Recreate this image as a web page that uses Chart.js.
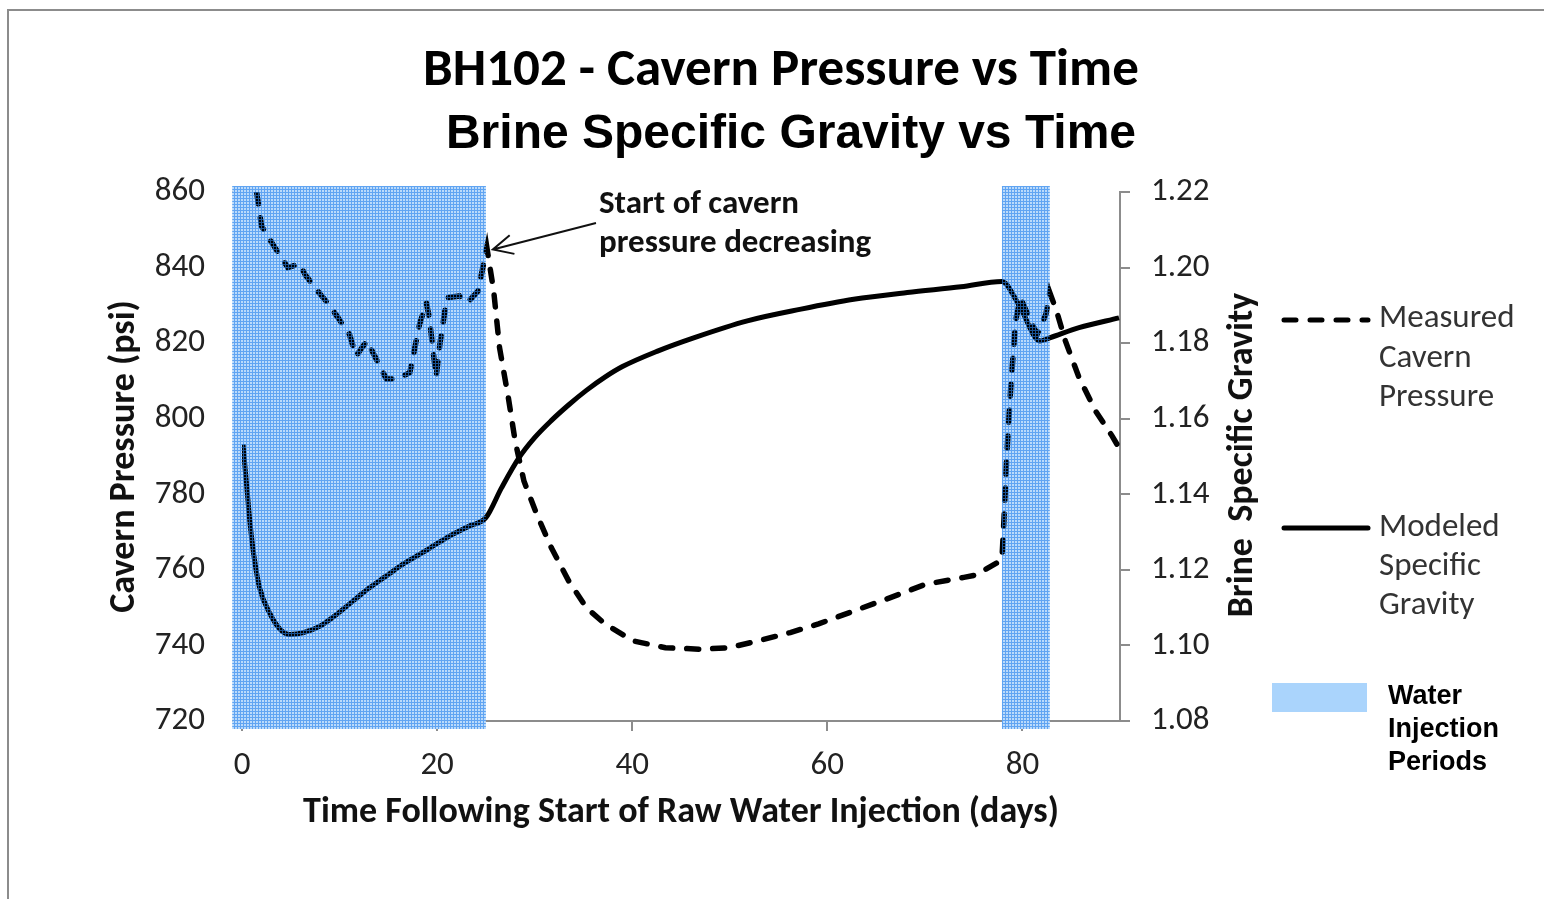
<!DOCTYPE html>
<html>
<head>
<meta charset="utf-8">
<script src="https://cdn.jsdelivr.net/npm/chart.js@4.4.1/dist/chart.umd.min.js"></script>
<style>
  html, body { margin: 0; padding: 0; background: #fff; }
  #wrap { position: relative; width: 1544px; height: 899px; overflow: hidden; }
  #frame { position: absolute; left: 7px; top: 9px; width: 1600px; height: 1000px;
           border-top: 2px solid #8c8c8c; border-left: 2px solid #8c8c8c; pointer-events: none; }
</style>
</head>
<body>
<div id="wrap">
  <canvas id="chart" width="1544" height="899"></canvas>
  <div id="frame"></div>
</div>
<script>
// measured cavern pressure (psi), days since start of injection
const pressureDays = [1.5, 2.0, 2.7, 4.7, 5.9, 6.5, 8.0, 9.0, 9.5, 11.0, 11.7, 12.8, 13.6, 14.8, 15.8,
  17.2, 17.5, 18.2, 18.9, 19.2, 19.9, 20.3, 21.0, 22.3, 23.1, 24.2, 25.1, 25.8, 26.4, 27.3, 28.0,
  28.9, 30.2, 31.7, 33.5, 35.3, 37.2, 40.1, 43.4, 47.0, 49.9, 52.9, 56.2, 59.1, 62.7, 66.4, 70.1,
  74.0, 75.2, 77.7, 77.9, 78.1, 78.4, 78.8, 79.3, 79.8, 80.7, 81.5, 82.4, 82.8, 83.5, 84.4, 85.8,
  87.5, 89.2, 89.9];
const pressureValues = [860, 851, 848, 840, 841, 838, 833, 830, 828, 822.4, 816.6, 820.6, 816.6, 810.5, 810.5,
  812.2, 816, 825, 830.7, 826.7, 811, 820, 832, 832.5, 830.7, 833.8, 845.3, 833.8, 818.8, 805.6, 794.1,
  783.5, 774.8, 765.9, 757, 750, 745.7, 741.2, 739.4, 739, 739.4, 741.2, 743.4, 745.7, 749.1, 752.6, 756.2,
  758, 758.6, 762.3, 763, 773, 790.6, 808.2, 825.9, 832, 826.7, 822.3, 827.6, 833.4, 828.5, 820.6, 810.9,
  802, 795.4, 792.3];

// modeled brine specific gravity
const gravityDays = [0.1, 0.5, 0.8, 1.2, 1.8, 2.9, 3.9, 4.9, 6.3, 8.0, 9.7, 11.4, 13.1, 14.8, 16.5, 18.2,
  19.9, 21.6, 23.3, 25.0, 26.6, 28.4, 30.0, 31.7, 33.5, 35.3, 37.2, 39.0, 42.6, 46.3, 51.8, 57.3, 62.7,
  68.2, 73.7, 77.9, 79.6, 81.8, 82.8, 85.8, 89.9];
const gravityValues = [1.1532, 1.1417, 1.1329, 1.1241, 1.1153, 1.1082, 1.1043, 1.1029, 1.1034, 1.1051,
  1.1082, 1.1118, 1.1153, 1.1184, 1.1215, 1.1241, 1.1268, 1.1294, 1.1316, 1.1338, 1.1417, 1.1497, 1.1550,
  1.1595, 1.1637, 1.1675, 1.1710, 1.1738, 1.1779, 1.1814, 1.1859, 1.1890, 1.1916, 1.1934, 1.1949, 1.1963,
  1.1903, 1.1806, 1.1814, 1.1841, 1.1867];

// water injection periods (days)
const injectionStart = [-1, 77.9];
const injectionEnd = [25.0, 82.8];

const dayTicks = [0, 20, 40, 60, 80];
const pressureTicks = [720, 740, 760, 780, 800, 820, 840, 860];
const gravityTicks = [1.08, 1.10, 1.12, 1.14, 1.16, 1.18, 1.20, 1.22];

const uiFont = 'Carlito, Calibri, Lato, sans-serif';
const arial = '"Liberation Sans", Arial, sans-serif';

function gridPattern(ctx) {
  const pc = document.createElement('canvas');
  pc.width = 3; pc.height = 3;
  const p = pc.getContext('2d');
  p.fillStyle = 'rgba(40,130,235,0.62)';
  p.fillRect(0, 0, 3, 1);
  p.fillRect(0, 1, 1, 2);
  return ctx.createPattern(pc, 'repeat');
}

function shadeRects(chart, fill) {
  const {ctx, chartArea, scales: {x}} = chart;
  ctx.save();
  ctx.fillStyle = fill;
  injectionStart.forEach((s, i) => {
    const x0 = x.getPixelForValue(s);
    const x1 = x.getPixelForValue(injectionEnd[i]);
    ctx.fillRect(x0, chartArea.top - 6, x1 - x0, chartArea.bottom - chartArea.top + 14);
  });
  ctx.restore();
}

const extras = {
  id: 'extras',
  beforeDatasetsDraw(chart) {
    shadeRects(chart, 'rgb(186,218,251)');
  },
  afterDatasetsDraw(chart) {
    shadeRects(chart, gridPattern(chart.ctx));
  },
  afterDraw(chart) {
    const {ctx, scales: {x, y}} = chart;
    ctx.save();
    // titles
    ctx.fillStyle = '#000';
    ctx.textAlign = 'center';
    ctx.textBaseline = 'alphabetic';
    ctx.font = 'bold 53px ' + uiFont;
    ctx.fillText('BH102 - Cavern Pressure vs Time', 781, 85);
    ctx.font = 'bold 48px ' + arial;
    ctx.fillText('Brine Specific Gravity vs Time', 791, 148);

    // right axis title
    ctx.save();
    ctx.translate(1243, 455);
    ctx.rotate(-Math.PI / 2);
    ctx.textBaseline = 'middle';
    ctx.fillStyle = '#111';
    ctx.font = 'bold 36px ' + uiFont;
    ctx.fillText('Brine  Specific Gravity', 0, 0);
    ctx.restore();

    // annotation
    ctx.textAlign = 'left';
    ctx.textBaseline = 'middle';
    ctx.font = 'bold 33px ' + uiFont;
    ctx.fillStyle = '#111';
    ctx.fillText('Start of cavern', 599, 205);
    ctx.fillText('pressure decreasing', 599, 244);
    const tipX = x.getPixelForValue(25.1) + 6;
    const tipY = y.getPixelForValue(845.3) + 2;
    ctx.strokeStyle = '#111';
    ctx.lineWidth = 2;
    ctx.beginPath();
    ctx.moveTo(596, 223);
    ctx.lineTo(tipX, tipY);
    const ang = Math.atan2(223 - tipY, 596 - tipX);
    ctx.moveTo(tipX + 22 * Math.cos(ang + 0.45), tipY + 22 * Math.sin(ang + 0.45));
    ctx.lineTo(tipX, tipY);
    ctx.lineTo(tipX + 22 * Math.cos(ang - 0.45), tipY + 22 * Math.sin(ang - 0.45));
    ctx.stroke();

    // legend
    const ds = chart.data.datasets;
    ctx.strokeStyle = '#000';
    ctx.lineWidth = 5;
    ctx.lineCap = 'round';
    ctx.setLineDash(ds[0].borderDash);
    ctx.beginPath(); ctx.moveTo(1284, 320); ctx.lineTo(1368, 320); ctx.stroke();
    ctx.setLineDash([]);
    ctx.beginPath(); ctx.moveTo(1284, 528); ctx.lineTo(1368, 528); ctx.stroke();
    ctx.fillStyle = '#333';
    ctx.font = '33px ' + uiFont;
    ['Measured', 'Cavern', 'Pressure'].forEach((t, i) => ctx.fillText(t, 1379, 319 + i * 39.5));
    ['Modeled', 'Specific', 'Gravity'].forEach((t, i) => ctx.fillText(t, 1379, 528 + i * 39));
    ctx.fillStyle = '#aad4fc';
    ctx.fillRect(1272, 683, 95, 29);
    ctx.fillStyle = '#000';
    ctx.font = 'bold 27px ' + arial;
    ['Water', 'Injection', 'Periods'].forEach((t, i) => ctx.fillText(t, 1388, 697 + i * 33));
    ctx.restore();
  }
};

const axisGrid = { drawOnChartArea: false, drawTicks: true, tickLength: 10, color: '#8c8c8c', lineWidth: 2 };
const axisBorder = { display: true, color: '#8c8c8c', width: 2 };
const tickFont = { family: uiFont, size: 33 };
const titleFont = { family: uiFont, size: 36, weight: 'bold', lineHeight: 1.2 };

new Chart(document.getElementById('chart'), {
  type: 'line',
  data: {
    datasets: [
      {
        label: 'Measured Cavern Pressure',
        data: pressureDays.map((d, i) => ({ x: d, y: pressureValues[i] })),
        yAxisID: 'y',
        borderColor: '#000',
        borderWidth: 5.5,
        borderDash: [12, 14],
        borderCapStyle: 'round',
        pointRadius: 0,
        tension: 0,
        fill: false,
      },
      {
        label: 'Modeled Specific Gravity',
        data: gravityDays.map((d, i) => ({ x: d, y: gravityValues[i] })),
        yAxisID: 'y1',
        borderColor: '#000',
        borderWidth: 5,
        pointRadius: 0,
        cubicInterpolationMode: 'monotone',
        fill: false,
      },
    ],
  },
  options: {
    responsive: false,
    animation: false,
    layout: { padding: { left: 0, right: 0, top: 192, bottom: 0 } },
    plugins: {
      legend: { display: false },
      tooltip: { enabled: false },
      title: { display: false },
    },
    scales: {
      x: {
        type: 'linear',
        min: 0,
        max: 90,
        afterBuildTicks: s => { s.ticks = dayTicks.map(v => ({ value: v })); },
        afterFit: s => { s.height = 178; },
        grid: axisGrid,
        border: axisBorder,
        ticks: { font: tickFont, color: '#222', padding: 15 },
        title: {
          display: true,
          text: 'Time Following Start of Raw Water Injection (days)',
          font: titleFont,
          color: '#111',
          padding: { top: 0, bottom: 64 },
        },
      },
      y: {
        position: 'left',
        min: 720,
        max: 860,
        afterBuildTicks: s => { s.ticks = pressureTicks.map(v => ({ value: v })); },
        afterFit: s => { s.width = 242; },
        grid: axisGrid,
        border: axisBorder,
        ticks: { font: tickFont, color: '#222', padding: 27 },
        title: {
          display: true,
          text: 'Cavern Pressure (psi)',
          font: titleFont,
          color: '#111',
          padding: { top: 103, bottom: 0 },
        },
      },
      y1: {
        position: 'right',
        min: 1.08,
        max: 1.22,
        afterBuildTicks: s => { s.ticks = gravityTicks.map(v => ({ value: v })); },
        afterFit: s => { s.width = 424; },
        grid: axisGrid,
        border: axisBorder,
        ticks: { font: tickFont, color: '#222', padding: 21, callback: v => v.toFixed(2) },
      },
    },
  },
  plugins: [extras],
});
</script>
</body>
</html>
